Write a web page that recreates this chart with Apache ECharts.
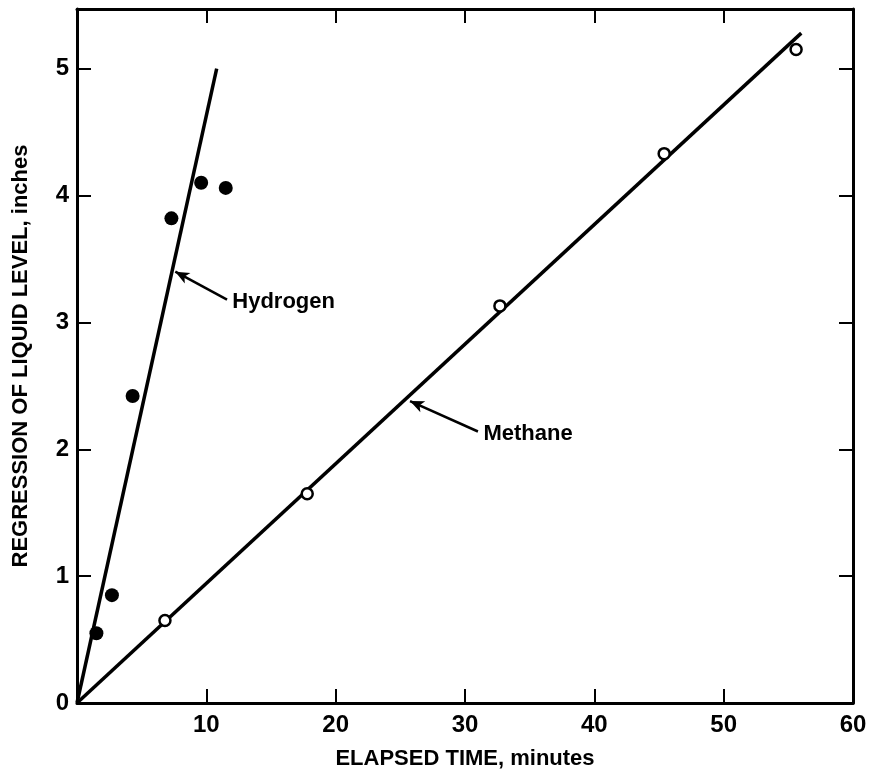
<!DOCTYPE html>
<html><head><meta charset="utf-8">
<script src="https://cdn.jsdelivr.net/npm/echarts@6/dist/echarts.min.js"></script>
<style>html,body{margin:0;padding:0;background:#fff}#c{width:881px;height:775px}</style>
</head><body><div id="c"></div>
<script>
const xTicks = [0, 10, 20, 30, 40, 50, 60];
const yTicks = [0, 1, 2, 3, 4, 5];
const hydrogenPts = [[1.5, 0.55], [2.7, 0.85], [4.3, 2.42], [7.3, 3.82], [9.6, 4.1], [11.5, 4.06]];
const methanePts = [[6.8, 0.65], [17.8, 1.65], [32.7, 3.13], [45.4, 4.33], [55.6, 5.15]];
const hydrogenLine = [[0, 0], [10.8, 5.0]];
const methaneLine = [[0, 0], [56.0, 5.28]];
const hydrogenArrow = [[7.6, 3.40], [11.6, 3.18]];
const methaneArrow = [[25.75, 2.38], [31.0, 2.14]];

const F = 'Liberation Sans, Arial, sans-serif';
const chart = echarts.init(document.getElementById('c'));
function arrowLine(pts, name) {
  return {
    silent: true, animation: false,
    symbol: ['arrow', 'none'], symbolSize: [9, 14],
    lineStyle: { color: '#000', width: 2.5, type: 'solid' },
    label: { show: true, position: 'end', formatter: name, color: '#000', fontFamily: F, fontWeight: 'bold', fontSize: 22, distance: 6 },
    data: [[{ coord: pts[0] }, { coord: pts[1] }]]
  };
}
const lineSt = { color: '#000', width: 3 };
const tickSt = { show: true, inside: true, length: 14, lineStyle: { color: '#000', width: 2 } };
chart.setOption({
  animation: false,
  backgroundColor: '#fff',
  grid: { left: 77, right: 28, top: 9, bottom: 72, show: false, containLabel: false, outerBoundsMode: 'none' },
  xAxis: [{
    type: 'value', min: 0, max: 60, interval: 10, position: 'bottom',
    name: 'ELAPSED TIME, minutes', nameLocation: 'middle', nameGap: 45,
    nameTextStyle: { color: '#000', fontFamily: F, fontWeight: 'bold', fontSize: 22 },
    axisLine: { show: true, onZero: false, lineStyle: lineSt },
    axisTick: tickSt,
    axisLabel: { color: '#000', fontFamily: F, fontWeight: 'bold', fontSize: 24, margin: 10, showMinLabel: false,
      formatter: v => xTicks.includes(v) ? String(v) : '' },
    splitLine: { show: false }
  }, {
    type: 'value', min: 0, max: 60, interval: 10, position: 'top',
    axisLine: { show: true, onZero: false, lineStyle: lineSt },
    axisTick: tickSt, axisLabel: { show: false }, splitLine: { show: false }
  }],
  yAxis: [{
    type: 'value', min: 0, max: 5.47, interval: 1, position: 'left',
    name: 'REGRESSION OF LIQUID LEVEL, inches', nameLocation: 'middle', nameGap: 45,
    nameTextStyle: { color: '#000', fontFamily: F, fontWeight: 'bold', fontSize: 22 },
    axisLine: { show: true, onZero: false, lineStyle: lineSt },
    axisTick: tickSt,
    axisLabel: { color: '#000', fontFamily: F, fontWeight: 'bold', fontSize: 24, margin: 8, showMaxLabel: false,
      formatter: v => yTicks.includes(v) ? String(v) : '' },
    splitLine: { show: false }
  }, {
    type: 'value', min: 0, max: 5.47, interval: 1, position: 'right',
    axisLine: { show: true, onZero: false, lineStyle: lineSt },
    axisTick: tickSt, axisLabel: { show: false }, splitLine: { show: false }
  }],
  series: [
    { type: 'line', data: hydrogenLine, symbol: 'none', lineStyle: { color: '#000', width: 3.5 }, silent: true,
      markLine: arrowLine(hydrogenArrow, 'Hydrogen') },
    { type: 'line', data: methaneLine, symbol: 'none', lineStyle: { color: '#000', width: 3.5 }, silent: true,
      markLine: arrowLine(methaneArrow, 'Methane') },
    { type: 'scatter', data: hydrogenPts, symbol: 'circle', symbolSize: 14, itemStyle: { color: '#000', opacity: 1 }, z: 5 },
    { type: 'scatter', data: methanePts, symbol: 'circle', symbolSize: 11, itemStyle: { color: '#fff', borderColor: '#000', borderWidth: 2.5, opacity: 1 }, z: 5 }
  ]
});
</script></body></html>
